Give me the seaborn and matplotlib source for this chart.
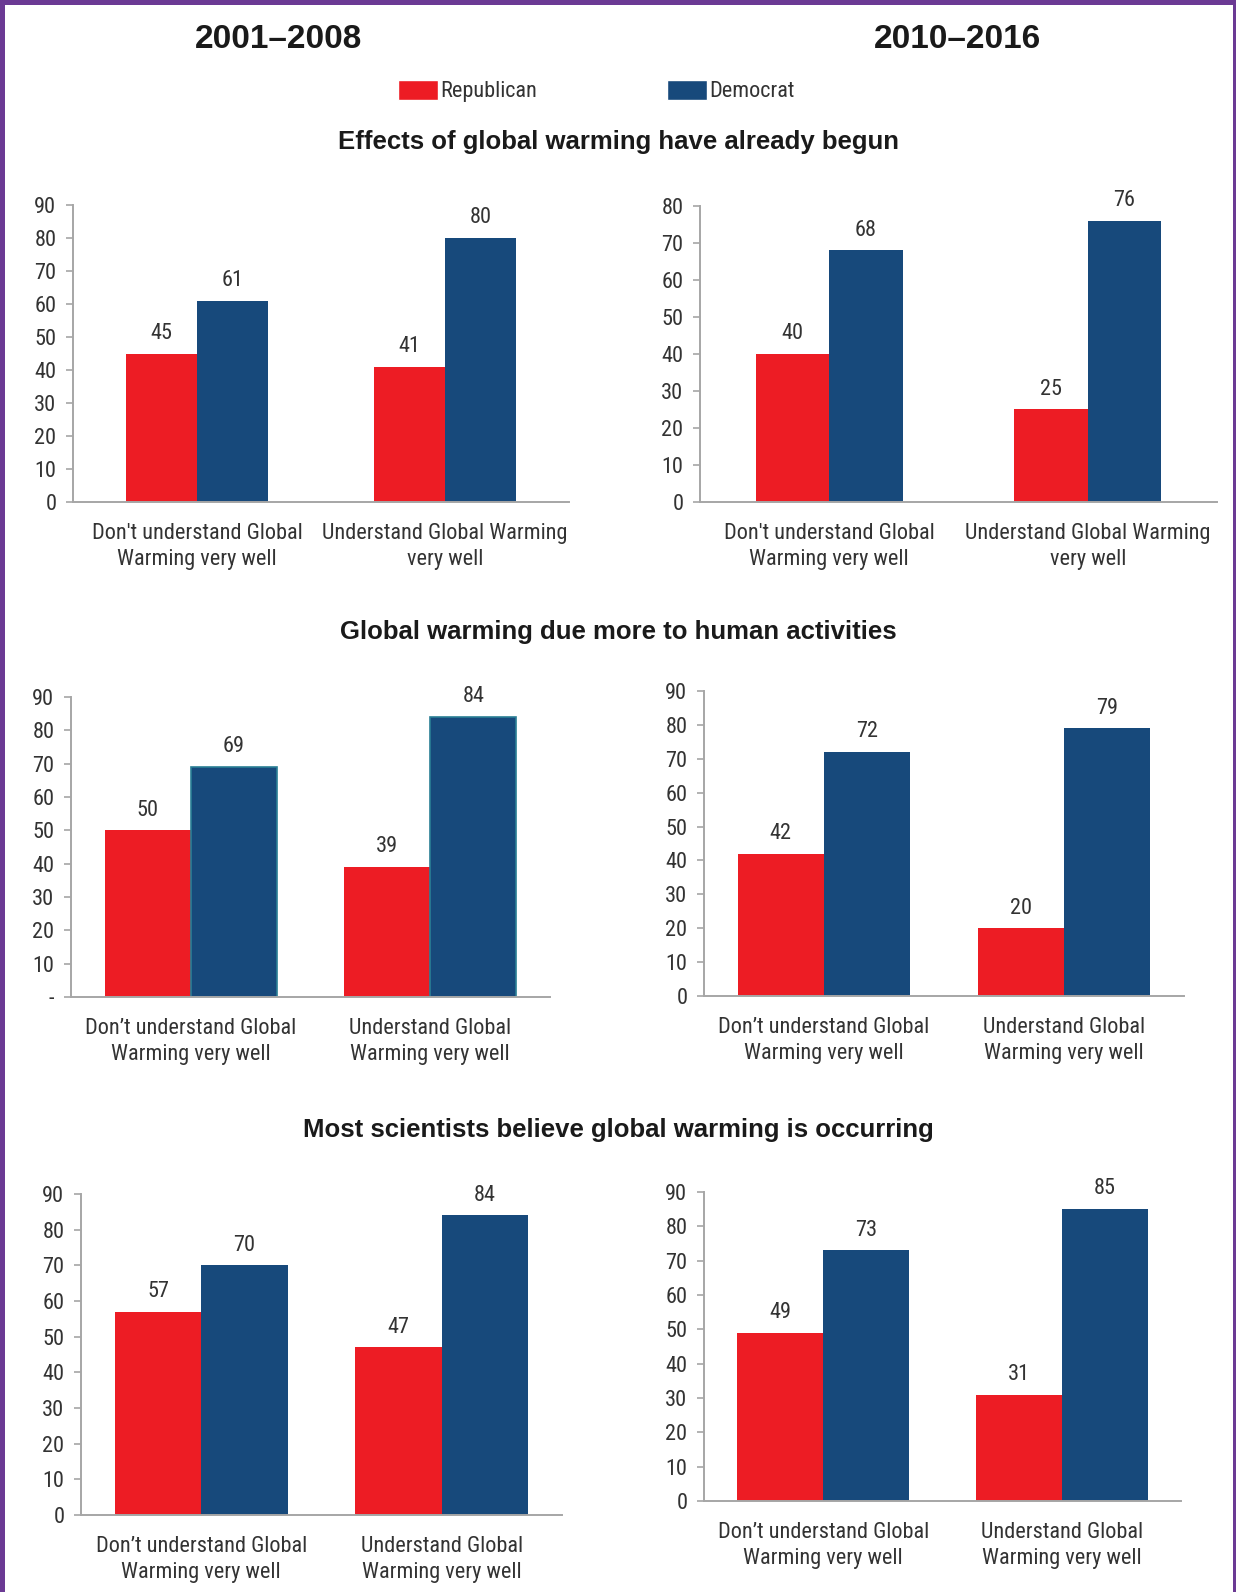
import matplotlib
matplotlib.use("Agg")
import matplotlib.pyplot as plt
import matplotlib.patches as mpatches
import matplotlib.font_manager as fm
import seaborn as sns
import pandas as pd

# ---- data ----
periods = ["2001–2008", "2010–2016"]
parties = ["Republican", "Democrat"]
questions = [
    "Effects of global warming have already begun",
    "Global warming due more to human activities",
    "Most scientists believe global warming is occurring",
]
cats_a = ["Don't understand Global\nWarming very well", "Understand Global Warming\nvery well"]
cats_b = ["Don\u2019t understand Global\nWarming very well", "Understand Global\nWarming very well"]

# values per category (don't understand, understand)
effects_2001_rep = [45, 41]
effects_2001_dem = [61, 80]
effects_2010_rep = [40, 25]
effects_2010_dem = [68, 76]
human_2001_rep = [50, 39]
human_2001_dem = [69, 84]
human_2010_rep = [42, 20]
human_2010_dem = [72, 79]
sci_2001_rep = [57, 47]
sci_2001_dem = [70, 84]
sci_2010_rep = [49, 31]
sci_2010_dem = [73, 85]

yticks_90 = [0, 10, 20, 30, 40, 50, 60, 70, 80, 90]
yticks_80 = [0, 10, 20, 30, 40, 50, 60, 70, 80]
ylabels_dash = ["-", "10", "20", "30", "40", "50", "60", "70", "80", "90"]

RED = "#ED1C24"
BLUE = "#17497B"
TEXT = "#333333"
GRAY = "#A6A6A6"
PURPLE = "#6B3A94"

sns.set_theme(style="white")

# pick a narrow sans face for body text when one is installed
entries = fm.fontManager.ttflist
names = {f.name for f in entries}
narrow_family = None
narrow_stretch = "normal"
for cand in ["Liberation Sans Narrow", "Arial Narrow", "Roboto Condensed",
             "DejaVu Sans Condensed", "Open Sans Condensed", "Noto Sans Condensed"]:
    if cand in names:
        narrow_family = cand
        break
if narrow_family is None:
    for f in entries:
        if str(f.stretch) in ("condensed", "semi-condensed", "extra-condensed") or \
                (isinstance(f.stretch, int) and f.stretch < 500):
            narrow_family = f.name
            narrow_stretch = f.stretch
            break
if narrow_family is None:
    narrow_family = "Liberation Sans"
    SZ = 14.5
else:
    SZ = 16

NARROW = [narrow_family, "DejaVu Sans"]
BOLD = ["Liberation Sans", "DejaVu Sans"]
plt.rcParams["font.family"] = NARROW
plt.rcParams["font.stretch"] = narrow_stretch
plt.rcParams["text.color"] = TEXT

W, H = 1236, 1592
fig = plt.figure(figsize=(W / 100, H / 100), dpi=100)
fig.patch.set_facecolor("white")


def frame(x0, x1, y_top, y_bot):
    return [x0 / W, 1 - y_bot / H, (x1 - x0) / W, (y_bot - y_top) / H]


panels = [
    dict(rect=frame(73, 569, 205, 502), cats=cats_a, rep=effects_2001_rep, dem=effects_2001_dem,
         ymax=90, ticks=yticks_90, tlabels=None, width=0.57, edge=False),
    dict(rect=frame(700, 1217, 206, 502), cats=cats_a, rep=effects_2010_rep, dem=effects_2010_dem,
         ymax=80, ticks=yticks_80, tlabels=None, width=0.57, edge=False),
    dict(rect=frame(71, 550, 697, 997), cats=cats_b, rep=human_2001_rep, dem=human_2001_dem,
         ymax=90, ticks=yticks_90, tlabels=ylabels_dash, width=0.72, edge=True),
    dict(rect=frame(704, 1184, 691, 996), cats=cats_b, rep=human_2010_rep, dem=human_2010_dem,
         ymax=90, ticks=yticks_90, tlabels=None, width=0.72, edge=False),
    dict(rect=frame(81, 562, 1194, 1515), cats=cats_b, rep=sci_2001_rep, dem=sci_2001_dem,
         ymax=90, ticks=yticks_90, tlabels=None, width=0.72, edge=False),
    dict(rect=frame(704, 1181, 1192, 1501), cats=cats_b, rep=sci_2010_rep, dem=sci_2010_dem,
         ymax=90, ticks=yticks_90, tlabels=None, width=0.72, edge=False),
]

for p in panels:
    ax = fig.add_axes(p["rect"])
    df = pd.DataFrame({
        "category": p["cats"] * 2,
        "party": [parties[0]] * 2 + [parties[1]] * 2,
        "value": p["rep"] + p["dem"],
    })
    sns.barplot(data=df, x="category", y="value", hue="party", order=p["cats"],
                hue_order=parties, palette=[RED, BLUE], width=p["width"],
                saturation=1, errorbar=None, linewidth=0, ax=ax, legend=False)
    for i, cont in enumerate(ax.containers):
        if p["edge"] and i == 1:
            for bar in cont:
                bar.set_edgecolor("#2A7F95")
                bar.set_linewidth(1.2)
        ax.bar_label(cont, fmt="%g", padding=7, fontsize=SZ, color=TEXT)
    ax.set_ylim(0, p["ymax"])
    ax.set_yticks(p["ticks"])
    if p["tlabels"] is not None:
        ax.set_yticklabels(p["tlabels"])
    ax.set_xlabel("")
    ax.set_ylabel("")
    for s in ["top", "right"]:
        ax.spines[s].set_visible(False)
    for s in ["left", "bottom"]:
        ax.spines[s].set_color(GRAY)
        ax.spines[s].set_linewidth(1.4)
    ax.tick_params(axis="y", which="both", left=True, length=5, width=1.2, color=GRAY,
                   pad=7, labelsize=SZ, labelcolor=TEXT)
    ax.tick_params(axis="x", length=0, pad=15, labelsize=SZ, labelcolor=TEXT)
    for t in ax.get_xticklabels():
        t.set_linespacing(1.3)
    ax.set_facecolor("white")

# column headings
fig.text(278 / W, 1 - 39 / H, periods[0], ha="center", va="center",
         fontsize=24, fontweight="bold", family=BOLD, stretch="normal", color="#1A1A1A")
fig.text(958 / W, 1 - 39 / H, periods[1], ha="center", va="center",
         fontsize=24, fontweight="bold", family=BOLD, stretch="normal", color="#1A1A1A")

# section headings
for q, y in zip(questions, [142, 632, 1130]):
    fig.text(618 / W, 1 - y / H, q, ha="center", va="center",
             fontsize=18.5, fontweight="bold", family=BOLD, stretch="normal", color="#1A1A1A")

# legend entries
for party, color, x in [(parties[0], RED, 398), (parties[1], BLUE, 667)]:
    h = mpatches.Patch(facecolor=color, label=party)
    fig.legend(handles=[h], loc="center left", bbox_to_anchor=(x / W, 1 - 91 / H),
               frameon=False, fontsize=SZ, handlelength=40 / (SZ * 100 / 72),
               handleheight=22 / (SZ * 100 / 72), handletextpad=0.12,
               borderpad=0, borderaxespad=0, labelcolor=TEXT)

# page border
fig.patches.append(mpatches.Rectangle((0, 0), 5 / W, 1, transform=fig.transFigure,
                                      facecolor=PURPLE, edgecolor="none"))
fig.patches.append(mpatches.Rectangle((0, 1 - 5 / H), 1, 5 / H, transform=fig.transFigure,
                                      facecolor=PURPLE, edgecolor="none"))
fig.patches.append(mpatches.Rectangle((1 - 3 / W, 0), 3 / W, 1, transform=fig.transFigure,
                                      facecolor=PURPLE, edgecolor="none"))

fig.savefig("out.png", dpi=100, facecolor="white")
